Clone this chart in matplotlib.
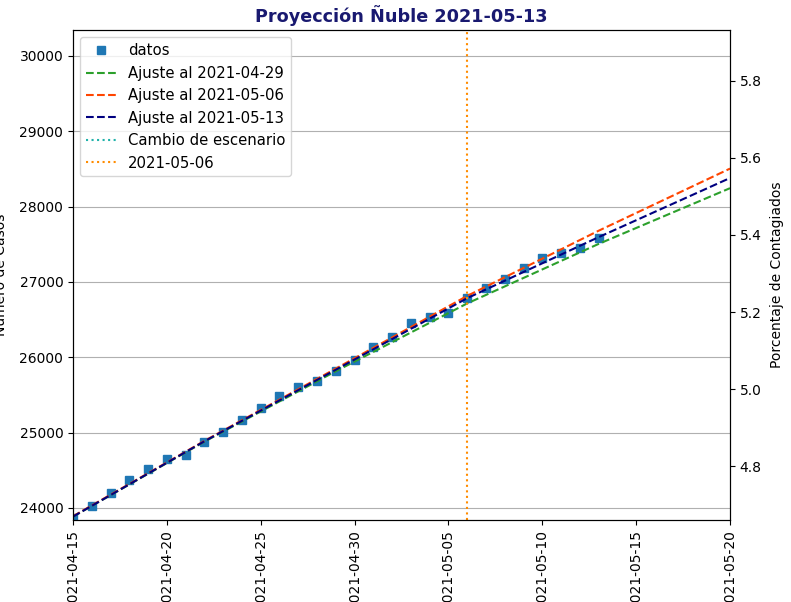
"""
Proyección de casos acumulados para Ñuble con tres ajustes sucesivos.
"""

import numpy as np
import pandas as pd
import matplotlib
matplotlib.use("Agg")
import matplotlib.pyplot as plt
import matplotlib.dates as mdates

# casos acumulados diarios (2021-04-15 a 2021-05-13)
fechas_datos = pd.date_range("2021-04-15", "2021-05-13", freq="D")
casos = [23867, 24027, 24203, 24372, 24518, 24646, 24704, 24872, 25009, 25168,
         25321, 25491, 25600, 25686, 25819, 25965, 26137, 26263, 26449, 26529,
         26585, 26781, 26917, 27040, 27179, 27323, 27378, 27455, 27580]

# curvas de ajuste leidas semanalmente
fechas_ajuste = pd.to_datetime(["2021-04-15", "2021-04-22", "2021-04-29",
                                "2021-05-06", "2021-05-13", "2021-05-20"])
ajuste_0429 = [23885, 24880, 25815, 26715, 27505, 28245]
ajuste_0506 = [23890, 24890, 25850, 26815, 27680, 28505]
ajuste_0513 = [23885, 24885, 25835, 26785, 27595, 28380]

poblacion = 511551
fecha_corte = pd.Timestamp("2021-05-06")
fecha_ticks = pd.date_range("2021-04-15", "2021-05-20", freq="5D")


def main():
    fig = plt.figure(figsize=(7.91, 6.02), dpi=100)
    ax = fig.add_axes([73 / 791, 82 / 602, 657 / 791, 490 / 602])

    ax.plot(fechas_datos, casos, "s", color="#1f77b4", markersize=5.5, label="datos")
    ax.plot(fechas_ajuste, ajuste_0429, "--", color="#2ca02c", label="Ajuste al 2021-04-29")
    ax.plot(fechas_ajuste, ajuste_0506, "--", color="orangered", label="Ajuste al 2021-05-06")
    ax.plot(fechas_ajuste, ajuste_0513, "--", color="navy", label="Ajuste al 2021-05-13")
    # el cambio de escenario queda fuera del rango mostrado
    ax.plot([], [], ":", color="lightseagreen", label="Cambio de escenario")
    ax.axvline(fecha_corte, linestyle=":", color="darkorange", label="2021-05-06")

    ax.set_xlim(pd.Timestamp("2021-04-15"), pd.Timestamp("2021-05-20"))
    ax.set_ylim(23840, 30345)
    ax.set_xticks(fecha_ticks)
    ax.xaxis.set_major_formatter(mdates.DateFormatter("%Y-%m-%d"))
    plt.setp(ax.get_xticklabels(), rotation=90)
    ax.set_ylabel("Número de Casos", labelpad=8)
    ax.grid(True, axis="y", color="#b0b0b0")
    ax.legend(loc="upper left", fontsize=10.7)
    ax.set_title("Proyección Ñuble 2021-05-13", fontweight="bold", color="#191970", fontsize=12.7)

    ax2 = ax.twinx()
    ax2.set_ylim(np.array(ax.get_ylim()) / poblacion * 100)
    ax2.set_ylabel("Porcentaje de Contagiados", labelpad=6)

    fig.savefig("out.png", dpi=100)


if __name__ == "__main__":
    main()
